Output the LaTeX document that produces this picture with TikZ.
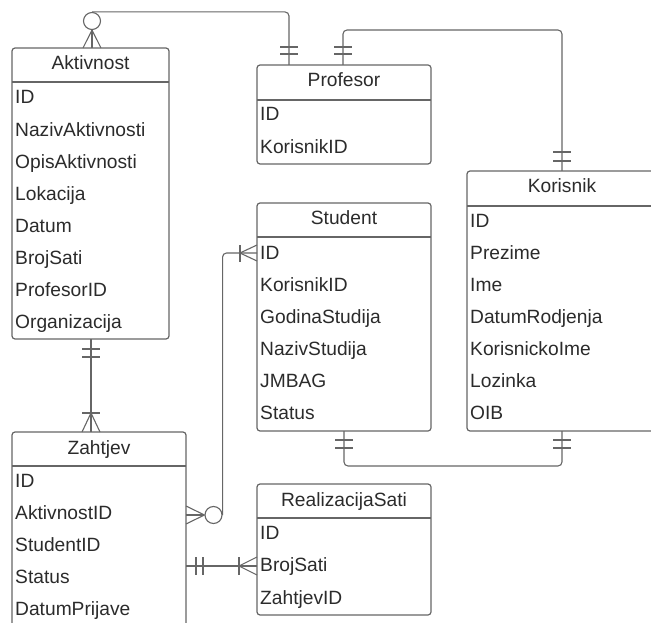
\documentclass[tikz,border=0pt]{standalone}
\usepackage{fontspec}
\setmainfont{Liberation Sans}
\usetikzlibrary{calc}
\definecolor{ln}{HTML}{666666}
\definecolor{tx}{HTML}{2B2B2B}
\begin{document}
\begin{tikzpicture}[x=1pt,y=-1pt,
  ent/.style={draw=ln, line width=1.2pt, rounded corners=3pt, inner sep=0pt, outer sep=0pt, anchor=north west},
  hdr/.style={text=tx, font=\fontsize{19.2}{19}\selectfont, anchor=base, inner sep=0pt},
  fld/.style={text=tx, font=\fontsize{19.2}{19}\selectfont, anchor=base west, inner sep=0pt},
  sep/.style={draw=ln, line width=1.2pt},
  conn/.style={draw=ln, line width=1.1pt, rounded corners=4pt},
  mk/.style={draw=ln, line width=1.1pt},
  opt/.style={draw=ln, line width=1.1pt, circle, minimum size=17pt, inner sep=0pt, fill=white}]
\useasboundingbox (0,0) rectangle (651,623);
\clip (0,0) rectangle (651,623);

% ---- entities ----
\node[ent, minimum width=157pt, minimum height=291pt] (akt) at (12,48) {};
\node[ent, minimum width=174pt, minimum height=99pt] (prof) at (257,65) {};
\node[ent, minimum width=190pt, minimum height=260pt] (kor) at (467,171) {};
\node[ent, minimum width=174pt, minimum height=228pt] (stu) at (257,203) {};
\node[ent, minimum width=174pt, minimum height=210pt] (zah) at (12,432) {};
\node[ent, minimum width=174pt, minimum height=131pt] (rea) at (257,484) {};

% header separators
\draw[sep] ($(akt.north west)+(0,34)$) -- ($(akt.north east)+(0,34)$);
\draw[sep] ($(prof.north west)+(0,35)$) -- ($(prof.north east)+(0,35)$);
\draw[sep] ($(kor.north west)+(0,35)$) -- ($(kor.north east)+(0,35)$);
\draw[sep] ($(stu.north west)+(0,34)$) -- ($(stu.north east)+(0,34)$);
\draw[sep] ($(zah.north west)+(0,34)$) -- ($(zah.north east)+(0,34)$);
\draw[sep] ($(rea.north west)+(0,34)$) -- ($(rea.north east)+(0,34)$);

% headers
\node[hdr] (akt-h) at (90.5,70) {Aktivnost};
\node[hdr] (prof-h) at (344,87) {Profesor};
\node[hdr] (kor-h) at (562,193) {Korisnik};
\node[hdr] (stu-h) at (344,225) {Student};
\node[hdr] (zah-h) at (99,454) {Zahtjev};
\node[hdr] (rea-h) at (344,506) {RealizacijaSati};

% fields
\foreach \t [count=\i] in {ID,NazivAktivnosti,OpisAktivnosti,Lokacija,Datum,BrojSati,ProfesorID,Organizacija}
  \node[fld] (akt-\i) at (15,{104+(\i-1)*32.14}) {\t};
\foreach \t [count=\i] in {ID,KorisnikID}
  \node[fld] (prof-\i) at (260,{121+(\i-1)*33}) {\t};
\foreach \t [count=\i] in {ID,Prezime,Ime,DatumRodjenja,KorisnickoIme,Lozinka,OIB}
  \node[fld] (kor-\i) at (470,{227+(\i-1)*32}) {\t};
\foreach \t [count=\i] in {ID,KorisnikID,GodinaStudija,NazivStudija,JMBAG,Status}
  \node[fld] (stu-\i) at (260,{259+(\i-1)*32}) {\t};
\foreach \t [count=\i] in {ID,AktivnostID,StudentID,Status,DatumPrijave}
  \node[fld] (zah-\i) at (15,{487+(\i-1)*32}) {\t};
\foreach \t [count=\i] in {ID,BrojSati,ZahtjevID}
  \node[fld] (rea-\i) at (260,{539+(\i-1)*32.5}) {\t};

% ---- Aktivnost (zero or many) -- Profesor (one and only one) ----
\node[opt] (c1) at (92,21) {};
\draw[conn] (c1.north) -| ($(prof.north west)+(32,0)$);
\draw[mk] ($(akt.north west)+(71,0)$) -- (c1.south) -- ($(akt.north west)+(89,0)$);
\draw[mk] (c1.south) -- ($(akt.north west)+(80,0)$);
\draw[mk] ($(prof.north west)+(23,-18)$) -- ($(prof.north west)+(41,-18)$);
\draw[mk] ($(prof.north west)+(23,-11)$) -- ($(prof.north west)+(41,-11)$);

% ---- Profesor -- Korisnik ----
\draw[conn] ($(prof.north west)+(86,0)$) -- ($(prof.north west)+(86,-35)$) -| ($(kor.north west)+(95,0)$);
\draw[mk] ($(prof.north west)+(77,-18)$) -- ($(prof.north west)+(95,-18)$);
\draw[mk] ($(prof.north west)+(77,-11)$) -- ($(prof.north west)+(95,-11)$);
\draw[mk] ($(kor.north west)+(86,-19)$) -- ($(kor.north west)+(104,-19)$);
\draw[mk] ($(kor.north west)+(86,-10)$) -- ($(kor.north west)+(104,-10)$);

% ---- Student -- Korisnik ----
\draw[conn] ($(stu.south west)+(87,0)$) -- ($(stu.south west)+(87,35)$) -| ($(kor.south west)+(95,0)$);
\draw[mk] ($(stu.south west)+(78,9)$) -- ($(stu.south west)+(96,9)$);
\draw[mk] ($(stu.south west)+(78,17)$) -- ($(stu.south west)+(96,17)$);
\draw[mk] ($(kor.south west)+(86,9)$) -- ($(kor.south west)+(104,9)$);
\draw[mk] ($(kor.south west)+(86,17)$) -- ($(kor.south west)+(104,17)$);

% ---- Aktivnost -- Zahtjev (one or many) ----
\draw[conn] ($(akt.south west)+(79,0)$) -- ($(zah.north west)+(79,0)$);
\draw[mk] ($(akt.south west)+(70,10)$) -- ($(akt.south west)+(88,10)$);
\draw[mk] ($(akt.south west)+(70,18)$) -- ($(akt.south west)+(88,18)$);
\draw[mk] ($(zah.north west)+(70,-19)$) -- ($(zah.north west)+(88,-19)$);
\draw[mk] ($(zah.north west)+(70,0)$) -- ($(zah.north west)+(79,-19)$) -- ($(zah.north west)+(88,0)$);

% ---- Student (one or many) -- Zahtjev (zero or many) ----
\node[opt] (c2) at (213.5,515) {};
\draw[conn] ($(stu.north west)+(0,50)$) -| (c2.east);
\draw[mk] ($(stu.north west)+(-17,42)$) -- ($(stu.north west)+(-17,59)$);
\draw[mk] ($(stu.north west)+(0,42)$) -- ($(stu.north west)+(-17,50)$) -- ($(stu.north west)+(0,58)$);
\draw[mk] ($(zah.north east)+(0,74)$) -- (c2.west) -- ($(zah.north east)+(0,92)$);
\draw[mk] ($(zah.north east)+(0,83)$) -- (c2.west);

% ---- Zahtjev -- RealizacijaSati (one or many) ----
\draw[conn] ($(zah.north east)+(0,134)$) -- ($(rea.north west)+(0,82)$);
\draw[mk] ($(zah.north east)+(10,125)$) -- ($(zah.north east)+(10,143)$);
\draw[mk] ($(zah.north east)+(17,125)$) -- ($(zah.north east)+(17,143)$);
\draw[mk] ($(rea.north west)+(-18,73)$) -- ($(rea.north west)+(-18,91)$);
\draw[mk] ($(rea.north west)+(0,73)$) -- ($(rea.north west)+(-18,82)$) -- ($(rea.north west)+(0,91)$);
\end{tikzpicture}
\end{document}
